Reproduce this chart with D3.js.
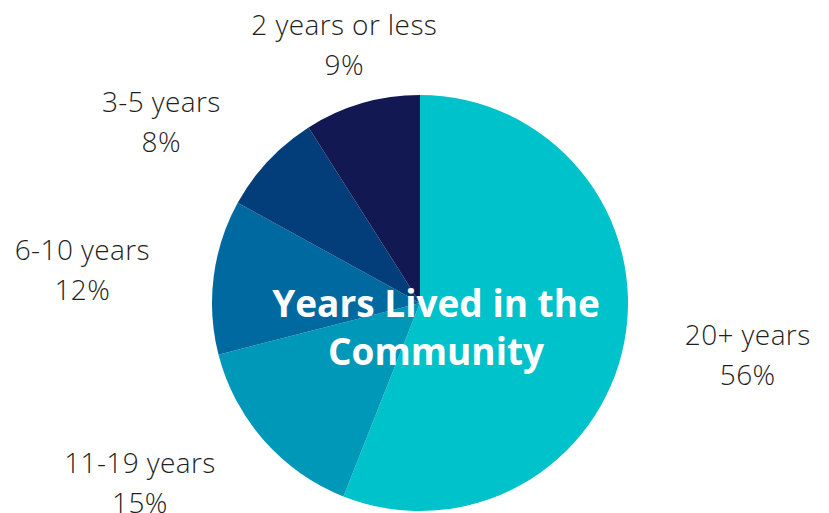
<!DOCTYPE html>
<html>
<head>
<meta charset="utf-8">
<script src="https://cdn.jsdelivr.net/npm/d3@7"></script>
<style>
  html, body { margin: 0; padding: 0; background: #fff; }
  svg { display: block; font-family: "Open Sans", sans-serif; }
</style>
</head>
<body>
<div id="pie-chart"></div>
<script>
const categories = ["20+ years", "11-19 years", "6-10 years", "3-5 years", "2 years or less"]
const values = [56, 15, 12, 8, 9]
const colors = ["#00C2CB", "#0098B9", "#006AA0", "#033E7A", "#111852"]
const titleLines = ["Years Lived in the", "Community"]

// label nudges from the arc centroid (layout only)
const labelNudge = [[33, -14], [-55, -28], [-40, -5], [-40, 14], [8, 20]]

const width = 829
const height = 513
const cx = 420, cy = 303, radius = 208

const svg = d3.select("#pie-chart")
  .append("svg")
  .attr("width", width)
  .attr("height", height)

const data = categories.map((c, i) => ({ cat: c, value: values[i], color: colors[i], i: i }))

const pie = d3.pie().sort(null).value(d => d.value)
const arcs = pie(data)

const arc = d3.arc().innerRadius(0).outerRadius(radius)
const labelArc = d3.arc().innerRadius(300).outerRadius(300)

const g = svg.append("g").attr("transform", `translate(${cx},${cy})`)

// slices
g.selectAll("path")
  .data(arcs)
  .join("path")
  .attr("d", arc)
  .attr("fill", d => d.data.color)

// labels
const labels = g.selectAll("text.lbl")
  .data(arcs)
  .join("text")
  .attr("class", "lbl")
  .attr("text-anchor", "middle")
  .style("font-size", "28px")
  .style("font-weight", 300)
  .style("letter-spacing", "0.4px")
  .attr("fill", "#1f1f1f")
  .attr("transform", d => {
    const c = labelArc.centroid(d)
    const n = labelNudge[d.data.i]
    return `translate(${c[0] + n[0]},${c[1] + n[1]})`
  })

labels.append("tspan").attr("x", 0).attr("y", 0).text(d => d.data.cat)
labels.append("tspan").attr("x", 0).attr("y", 40).text(d => d.data.value + "%")

// title
const title = g.append("text")
  .attr("text-anchor", "middle")
  .attr("transform", "translate(16,14)")
  .style("font-size", "37px")
  .style("font-weight", 700)
  .attr("fill", "#fff")

title.selectAll("tspan")
  .data(titleLines)
  .join("tspan")
  .attr("x", 0)
  .attr("y", (d, i) => i * 48)
  .text(d => d)
</script>
</body>
</html>
